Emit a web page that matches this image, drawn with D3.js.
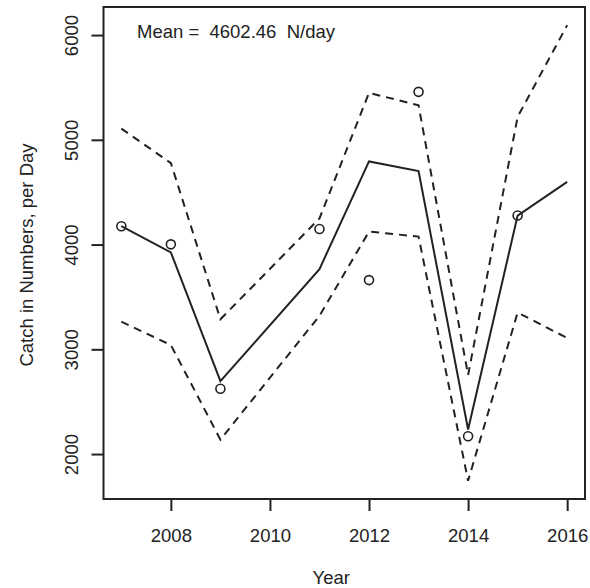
<!DOCTYPE html>
<html>
<head>
<meta charset="utf-8">
<script src="https://cdn.jsdelivr.net/npm/d3@7"></script>
<style>
  body { margin: 0; background: #fff; }
  svg { font-family: Arial, "Liberation Sans", sans-serif; }
</style>
</head>
<body>
<svg id="chart" width="590" height="588"></svg>
<script>
// values
const years    = [2007, 2008, 2009, 2011, 2012, 2013, 2014, 2015, 2016];
const observed = [4175, 4002, 2623, 4149, 3661, 5458, 2170, 4277, null];
const fitted   = [4175, 3925, 2696, 3766, 4794, 4701, 2234, 4277, 4598];
const upper    = [5107, 4778, 3287, 4250, 5448, 5330, 2754, 5219, 6094];
const lower    = [3264, 3041, 2138, 3320, 4124, 4076, 1745, 3351, 3108];
const xTicks = [2008, 2010, 2012, 2014, 2016];
const yTicks = [2000, 3000, 4000, 5000, 6000];
const meanLabel = "Mean =  4602.46  N/day";

const BOX = { left: 103.5, right: 585, top: 7, bottom: 499 };
const INK = "#222";
const FONT_SIZE = "18.5px";

const svg = d3.select("#chart");

// R style: pad the data range by 4% on each side
function padded (lo, hi) {
  const p = (hi - lo) * 0.04;
  return [lo - p, hi + p];
}

const xScale = d3.scaleLinear()
  .domain(padded(d3.min(years), d3.max(years)))
  .range([BOX.left, BOX.right]);

const yScale = d3.scaleLinear()
  .domain(padded(d3.min(lower), d3.max(upper)))
  .range([BOX.bottom, BOX.top]);

// box
svg.append("rect")
  .attr("x", BOX.left).attr("y", BOX.top)
  .attr("width", BOX.right - BOX.left).attr("height", BOX.bottom - BOX.top)
  .attr("fill", "none").attr("stroke", INK).attr("stroke-width", 2);

// x axis
let xAxis = svg.append("g")
  .attr("transform", `translate(0,${BOX.bottom})`)
  .call(d3.axisBottom(xScale).tickValues(xTicks).tickFormat(d3.format("d")).tickSize(12).tickPadding(18));
xAxis.select(".domain").remove();
xAxis.selectAll(".tick line").attr("stroke", INK).attr("stroke-width", 2);
xAxis.selectAll(".tick text")
  .attr("fill", INK)
  .style("font-size", FONT_SIZE)
  .style("font-family", "Arial, 'Liberation Sans', sans-serif");

// y axis, labels turned like R's default
let yAxis = svg.append("g")
  .attr("transform", `translate(${BOX.left},0)`)
  .call(d3.axisLeft(yScale).tickValues(yTicks).tickSize(12).tickFormat(d3.format("d")));
yAxis.select(".domain").remove();
yAxis.selectAll(".tick line").attr("stroke", INK).attr("stroke-width", 2);
yAxis.selectAll(".tick text")
  .attr("fill", INK)
  .attr("x", null).attr("dy", null)
  .attr("text-anchor", "middle")
  .attr("transform", "translate(-26,0) rotate(-90)")
  .style("font-size", FONT_SIZE)
  .style("font-family", "Arial, 'Liberation Sans', sans-serif");

// axis titles
svg.append("text")
  .attr("x", (BOX.left + BOX.right) / 2 - 13).attr("y", 584)
  .attr("text-anchor", "middle").attr("fill", INK)
  .style("font-size", FONT_SIZE)
  .text("Year");

svg.append("text")
  .attr("transform", `translate(33,255) rotate(-90)`)
  .attr("text-anchor", "middle").attr("fill", INK)
  .style("font-size", FONT_SIZE)
  .text("Catch in Numbers, per Day");

// mean label
svg.append("text")
  .attr("x", 137).attr("y", 38)
  .attr("fill", INK)
  .style("font-size", FONT_SIZE)
  .attr("xml:space", "preserve")
  .style("white-space", "pre")
  .text(meanLabel);

// lines
const rows = years.map((y, i) => ({ year: y, obs: observed[i], fit: fitted[i], hi: upper[i], lo: lower[i] }));

function lineFor (key) {
  return d3.line().x(d => xScale(d.year)).y(d => yScale(d[key]));
}

[["hi", "8,6"], ["lo", "8,6"], ["fit", null]].forEach(([key, dash]) => {
  svg.append("path")
    .datum(rows)
    .attr("d", lineFor(key))
    .attr("fill", "none")
    .attr("stroke", INK)
    .attr("stroke-width", 2)
    .attr("stroke-dasharray", dash);
});

// observed points
svg.selectAll("circle.obs")
  .data(rows.filter(d => d.obs != null))
  .join("circle")
  .attr("class", "obs")
  .attr("cx", d => xScale(d.year))
  .attr("cy", d => yScale(d.obs))
  .attr("r", 4.5)
  .attr("fill", "none")
  .attr("stroke", INK)
  .attr("stroke-width", 1.6);
</script>
</body>
</html>
